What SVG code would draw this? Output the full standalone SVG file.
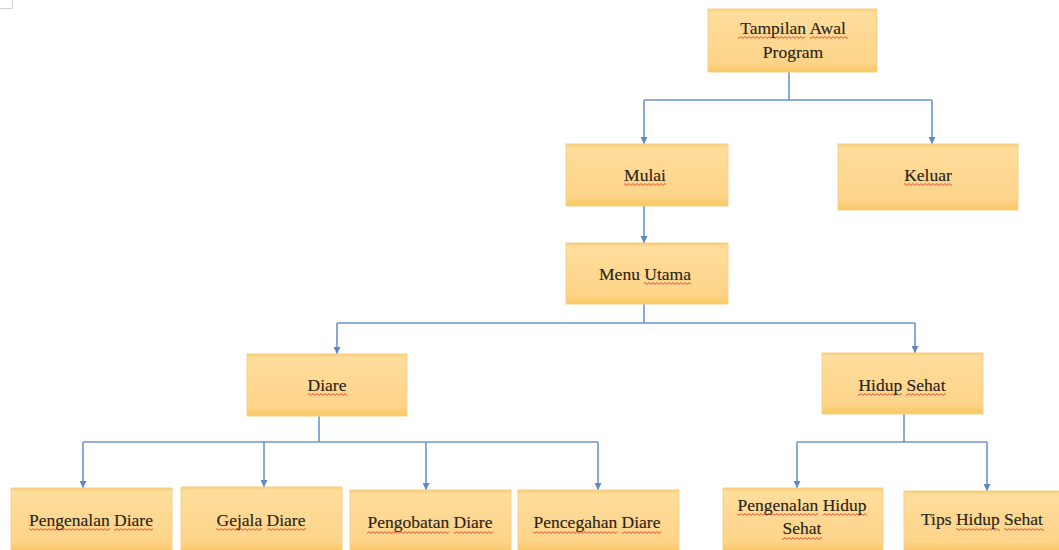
<svg xmlns="http://www.w3.org/2000/svg" width="1059" height="550" viewBox="0 0 1059 550">
<defs>
<linearGradient id="g" x1="0" y1="0" x2="0" y2="1">
<stop offset="0" stop-color="#f8cb74"/>
<stop offset="0.06" stop-color="#ffdd9b"/>
<stop offset="0.85" stop-color="#fdd48a"/>
<stop offset="1" stop-color="#f8c762"/>
</linearGradient>
<pattern id="w" x="0" y="0" width="4" height="3" patternUnits="userSpaceOnUse">
<path d="M-1,2.4 L1,0.6 L3,2.4 L5,0.6" fill="none" stroke="#e0402a" stroke-width="0.9"/>
</pattern>
<marker id="a" viewBox="0 0 10 10" refX="10" refY="5" markerWidth="7" markerHeight="7" markerUnits="userSpaceOnUse" orient="auto">
<path d="M0,0 L10,5 L0,10 Z" fill="#5f88c8"/>
</marker>
<style>
.b{fill:url(#g);stroke:#f6d08a;stroke-width:1}
.t{font-family:"Liberation Serif","Times New Roman",serif;font-size:17.5px;fill:#2a2418;stroke:#2a2418;stroke-width:0.15;text-anchor:middle}
.s{fill:url(#w)}
.c{fill:none;stroke:#6e94cc;stroke-width:1.6}
</style>
</defs>
<rect width="1059" height="550" fill="#ffffff"/>
<path d="M0,8.5 H12.5 V0" fill="none" stroke="#d0d0d0" stroke-width="1"/>
<g id="connectors">
<path class="c" d="M789,72 V100"/>
<path class="c" d="M644,100 H932"/>
<path class="c" d="M644,100 V144" marker-end="url(#a)"/>
<path class="c" d="M932,100 V144" marker-end="url(#a)"/>
<path class="c" d="M644,206 V243" marker-end="url(#a)"/>
<path class="c" d="M644,304 V323"/>
<path class="c" d="M337,323 H915"/>
<path class="c" d="M337,323 V354" marker-end="url(#a)"/>
<path class="c" d="M915,323 V353" marker-end="url(#a)"/>
<path class="c" d="M319,416 V442"/>
<path class="c" d="M83,442 H598"/>
<path class="c" d="M83,442 V488" marker-end="url(#a)"/>
<path class="c" d="M264,442 V487" marker-end="url(#a)"/>
<path class="c" d="M426,442 V490" marker-end="url(#a)"/>
<path class="c" d="M598,442 V490" marker-end="url(#a)"/>
<path class="c" d="M904,414 V442"/>
<path class="c" d="M797,442 H987"/>
<path class="c" d="M797,442 V488" marker-end="url(#a)"/>
<path class="c" d="M987,442 V491" marker-end="url(#a)"/>
</g>
<g id="n_tampilan"><rect class="b" x="708" y="9" width="169" height="63"/><rect class="s" x="738" y="36" width="67" height="3"/><rect class="s" x="810" y="36" width="38" height="3"/><text class="t" x="793" y="34">Tampilan Awal</text><text class="t" x="793" y="58">Program</text></g>
<g id="n_mulai"><rect class="b" x="566" y="144" width="162" height="62"/><rect class="s" x="624" y="183" width="42" height="3"/><text class="t" x="645" y="181">Mulai</text></g>
<g id="n_keluar"><rect class="b" x="838" y="144" width="180" height="66"/><rect class="s" x="904" y="183" width="48" height="3"/><text class="t" x="928" y="181">Keluar</text></g>
<g id="n_menu"><rect class="b" x="566" y="243" width="162" height="61"/><rect class="s" x="644" y="282" width="47" height="3"/><text class="t" x="645" y="280">Menu Utama</text></g>
<g id="n_diare"><rect class="b" x="247" y="354" width="160" height="62"/><rect class="s" x="308" y="393" width="39" height="3"/><text class="t" x="327" y="391">Diare</text></g>
<g id="n_hidup"><rect class="b" x="822" y="353" width="161" height="61"/><rect class="s" x="858" y="393" width="44" height="3"/><rect class="s" x="906" y="393" width="40" height="3"/><text class="t" x="902" y="391">Hidup Sehat</text></g>
<g id="n_pengenalan_diare"><rect class="b" x="11" y="488" width="161" height="63"/><rect class="s" x="29" y="528" width="81" height="3"/><rect class="s" x="114" y="528" width="39" height="3"/><text class="t" x="91" y="526">Pengenalan Diare</text></g>
<g id="n_gejala"><rect class="b" x="181" y="487" width="161" height="64"/><rect class="s" x="216" y="528" width="46" height="3"/><rect class="s" x="267" y="528" width="39" height="3"/><text class="t" x="261" y="526">Gejala Diare</text></g>
<g id="n_pengobatan"><rect class="b" x="350" y="490" width="161" height="61"/><rect class="s" x="367" y="531" width="82" height="3"/><rect class="s" x="454" y="531" width="39" height="3"/><text class="t" x="430" y="528">Pengobatan Diare</text></g>
<g id="n_pencegahan"><rect class="b" x="518" y="490" width="161" height="61"/><rect class="s" x="533" y="531" width="84" height="3"/><rect class="s" x="622" y="531" width="39" height="3"/><text class="t" x="597" y="528">Pencegahan Diare</text></g>
<g id="n_pengenalan_hidup"><rect class="b" x="723" y="488" width="160" height="63"/><rect class="s" x="737" y="513" width="81" height="3"/><rect class="s" x="823" y="513" width="44" height="3"/><rect class="s" x="782" y="537" width="40" height="3"/><text class="t" x="802" y="511">Pengenalan Hidup</text><text class="t" x="802" y="534">Sehat</text></g>
<g id="n_tips"><rect class="b" x="904" y="491" width="156" height="60"/><rect class="s" x="956" y="528" width="44" height="3"/><rect class="s" x="1004" y="528" width="40" height="3"/><text class="t" x="982" y="525">Tips Hidup Sehat</text></g>
</svg>
